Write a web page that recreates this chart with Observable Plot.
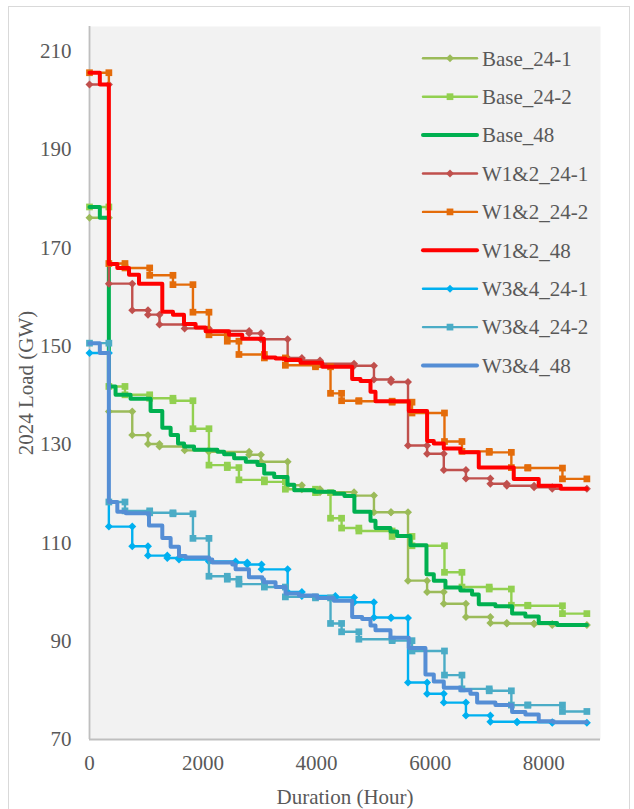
<!DOCTYPE html>
<html><head><meta charset="utf-8">
<script src="https://cdn.jsdelivr.net/npm/d3@7"></script>
<script src="https://cdn.jsdelivr.net/npm/@observablehq/plot@0.6"></script>
<style>
body{margin:0;background:#fff;}
#wrap{position:relative;width:634px;height:809px;overflow:hidden;background:#fff;}
#border{position:absolute;left:8px;top:6px;width:622px;height:830px;border:1px solid #d9d9d9;box-sizing:border-box;}
#chart{position:absolute;left:0;top:0;}
#legend{position:absolute;left:0;top:0;pointer-events:none;}
</style></head><body>
<div id="wrap"><div id="border"></div><div id="chart"></div><svg id="legend" width="634" height="809"></svg></div>
<script>
// ---------- data (block end hour, block load in GW) ----------
const seriesNames = ["Base_24-1","Base_24-2","Base_48","W1&2_24-1","W1&2_24-2","W1&2_48","W3&4_24-1","W3&4_24-2","W3&4_48"];
const seriesColors = ["#9BBB59","#92D050","#00B050","#C0504D","#E46C0A","#FF0000","#00B0F0","#4BACC6","#558ED5"];
const xTicks = [0,2000,4000,6000,8000];
const yTicks = [70,90,110,130,150,170,190,210];
const xTitle = "Duration (Hour)";
const yTitle = "2024 Load (GW)";

const base241Ends = [341,753,1030,1233,1675,2101,2812,3020,3490,3740,4060,4660,5010,5310,5610,5946,6240,6630,7060,7350,7830,8150,8760];
const base241Vals = [176.1,136.7,131.9,130.1,129.6,128.8,128.5,127.9,126.5,121.7,120.9,120.3,119.6,116.2,116.2,102.3,100.0,97.6,94.9,93.7,93.6,93.5,93.3];

const base242Ends = [341,625,1060,1470,1822,2104,2427,2632,3080,3450,3980,4245,4440,4744,5330,5680,6252,6560,7040,7430,7720,8330,8760];
const base242Vals = [178.3,141.8,140.1,139.4,138.9,133.2,125.8,125.3,122.8,122.4,120.9,120.2,115.0,113.0,112.4,111.3,109.4,104.0,101.0,100.6,97.3,97.2,95.6];

const base48Ends = [182,341,459,723,1076,1282,1429,1559,1665,1841,2253,2371,2547,2753,2959,3077,3253,3488,3606,3959,4312,4490,4665,4949,5037,5301,5418,5653,5935,6064,6269,6533,6738,6856,7149,7443,7677,7912,8235,8760];
const base48Vals = [178.3,176.1,141.8,140.1,139.3,136.8,133.4,131.9,130.2,129.6,128.9,128.5,128.0,127.2,126.5,125.8,124.1,123.4,121.8,120.7,120.4,120.0,119.5,116.3,114.5,113.0,112.3,111.4,109.5,103.6,102.3,100.9,100.3,99.5,97.5,97.1,95.6,95.0,93.7,93.3];

const w12241Ends = [341,753,1030,1233,1675,2101,2812,3020,3490,3740,4060,4660,5010,5310,5610,5946,6240,6630,7060,7350,7830,8150,8760];
const w12241Vals = [203.2,162.7,157.3,156.4,154.4,153.6,153.1,152.6,151.4,147.6,147.1,146.4,146.0,143.2,142.7,129.8,128.1,124.8,123.1,122.0,121.6,121.3,121.0];

const w12242Ends = [341,625,1060,1470,1822,2104,2427,2632,3080,3450,3980,4245,4440,4744,5330,5680,6252,6560,7040,7430,7720,8330,8760];
const w12242Vals = [205.6,166.8,165.9,164.4,162.5,156.9,152.3,151.0,148.3,147.6,146.1,145.8,140.4,138.9,138.8,138.6,136.4,130.6,128.6,128.4,125.3,125.2,123.0];

const w1248Ends = [182,341,490,696,872,1282,1470,1664,1869,2045,2456,2690,3072,3277,3453,3717,4100,4626,4773,4949,5037,5624,5946,6064,6240,6533,6856,7472,7912,8300,8760];
const w1248Vals = [205.6,203.2,166.7,165.9,164.5,162.7,157.0,156.4,154.5,153.8,153.0,152.3,151.5,147.7,147.5,147.2,146.6,145.8,143.3,142.9,140.7,138.8,136.8,130.7,130.2,129.2,128.4,125.3,123.0,121.6,121.0];

const w34241Ends = [341,753,1030,1370,1576,2104,2573,2778,3031,3490,3740,4330,4660,5010,5310,5610,5946,6240,6630,7060,7530,8150,8760];
const w34241Vals = [148.6,113.3,109.3,107.4,106.9,106.6,106.2,106.0,105.6,104.6,100.0,99.2,98.9,97.9,94.8,94.7,81.6,79.3,77.5,74.9,73.6,73.5,73.4];

const w34242Ends = [341,625,1060,1470,1822,2104,2427,2632,3080,3450,3980,4245,4440,4744,5330,5680,6252,6560,7040,7430,7720,8330,8760];
const w34242Vals = [150.6,118.3,116.5,116.1,115.9,110.9,103.2,102.6,101.6,101.0,99.0,98.8,93.6,91.9,90.4,90.1,88.0,83.1,80.3,79.9,77.0,77.0,75.7];

const w3448Ends = [182,341,490,640,1048,1282,1429,1576,1693,2104,2162,2515,2573,2808,3043,3072,3277,3453,3688,4010,4304,4626,4802,4949,5037,5301,5624,5917,6064,6240,6533,6709,6827,7149,7443,7677,7912,8176,8760];
const w3448Vals = [150.6,148.6,118.3,116.3,116.0,113.5,111.0,109.2,107.3,107.0,106.6,106.0,105.6,104.6,103.0,102.6,102.0,101.0,99.7,99.3,98.8,98.2,94.9,94.5,93.2,92.2,90.7,88.6,83.2,81.8,80.5,80.0,79.3,77.5,77.0,75.6,75.1,73.7,73.5];

// ---------- build step tables ----------
const seriesEnds = [base241Ends,base242Ends,base48Ends,w12241Ends,w12242Ends,w1248Ends,w34241Ends,w34242Ends,w3448Ends];
const seriesVals = [base241Vals,base242Vals,base48Vals,w12241Vals,w12242Vals,w1248Vals,w34241Vals,w34242Vals,w3448Vals];
const seriesSymbols = ["diamond2","square",null,"diamond2","square",null,"diamond2","square",null];

function stepTable(name, ends, vals){
  const rows = []; let start = 0;
  ends.forEach((e,i)=>{ rows.push({series:name, hour:start, load:vals[i]}); rows.push({series:name, hour:e, load:vals[i]}); start = e; });
  return rows;
}

const FONT = '"Liberation Serif","Times New Roman",serif';
const TXT = "#595959";

const marks = [
  Plot.frame({fill:"#f2f2f2", stroke:null}),
  Plot.ruleX([0], {stroke:"#bfbfbf", strokeWidth:1.8}),
  Plot.ruleY([70], {stroke:"#bfbfbf", strokeWidth:1.8}),
  Plot.axisY({ticks:yTicks, tickSize:0, tickPadding:18, label:null, fontSize:21, fill:TXT}),
  Plot.axisX({ticks:xTicks, tickSize:0, tickPadding:16, label:null, fontSize:21, fill:TXT, tickFormat:d=>String(d)}),
  Plot.text([xTitle], {text:d=>d, frameAnchor:"bottom", dy:58, lineAnchor:"middle", textAnchor:"middle", fontSize:21, fill:TXT}),
  Plot.text([yTitle], {text:d=>d, frameAnchor:"left", dx:-63, rotate:-90, lineAnchor:"middle", textAnchor:"middle", fontSize:21, fill:TXT})
];

seriesNames.forEach((name,i)=>{
  const rows = stepTable(name, seriesEnds[i], seriesVals[i]);
  const sym = seriesSymbols[i];
  marks.push(Plot.line(rows, {x:"hour", y:"load", stroke:seriesColors[i], strokeWidth: sym ? 2.4 : 4, strokeLinejoin:"round"}));
  if (sym) marks.push(Plot.dot(rows, {x:"hour", y:"load", symbol:sym, r: sym==="square" ? 3.8 : 3.6, fill:seriesColors[i], stroke:null}));
});

const chart = Plot.plot({
  width:634, height:809,
  marginLeft:89, marginRight:34, marginTop:26, marginBottom:70,
  x:{domain:[0,9000]},
  y:{domain:[70,215]},
  style:{fontFamily:FONT, fontSize:"21px", color:TXT, background:"transparent"},
  marks
});
document.getElementById("chart").appendChild(chart);

// ---------- legend ----------
const lg = d3.select("#legend");
seriesNames.forEach((name,i)=>{
  const y = 58.3 + 38.4*i;
  const sym = seriesSymbols[i];
  lg.append("line").attr("x1",423).attr("x2",477).attr("y1",y).attr("y2",y)
    .attr("stroke",seriesColors[i]).attr("stroke-width", sym ? 2.4 : 4).attr("stroke-linecap","round");
  if (sym){
    const t = sym==="square" ? d3.symbolSquare : d3.symbolDiamond2;
    const size = sym==="square" ? Math.PI*3.8*3.8 : Math.PI*3.6*3.6;
    lg.append("path").attr("d", d3.symbol(t, size)()).attr("transform",`translate(450,${y})`).attr("fill",seriesColors[i]);
  }
  lg.append("text").attr("x",482).attr("y",y).attr("dy","0.35em")
    .attr("font-family",FONT).attr("font-size",21).attr("fill",TXT).text(name);
});
</script>
</body></html>
